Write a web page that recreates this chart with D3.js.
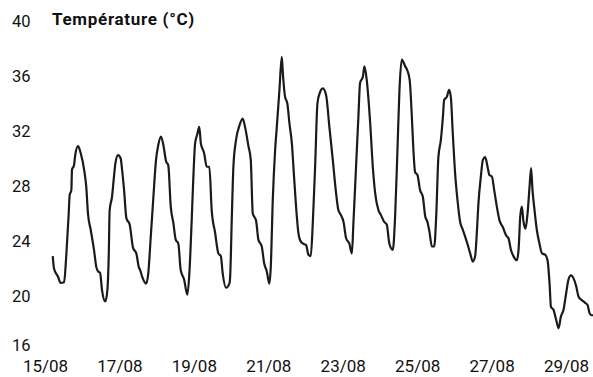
<html>
<head>
    <script src="https://d3js.org/d3.v7.min.js"></script>
</head>
<body>
<div id="graph"></div>

<script>
    // hours since 15/08 00:00
    var hours = [5.0, 5.8, 8.4, 10.1, 12.3, 13.7, 15.3, 15.9, 17.0, 17.4, 18.7, 19.5, 21.3, 23.0, 25.2, 26.6, 27.7, 29.5, 31.6, 33.1,
        34.2, 35.5, 36.8, 38.9, 40.2, 41.1, 41.7, 43.2, 44.5, 45.4, 47.1, 48.8, 49.7, 51.0, 52.5, 54.6, 56.8, 58.9, 60.5, 61.3,
        63.0, 65.2, 66.6, 68.2, 69.9, 71.6, 73.1, 74.8, 76.3, 78.1, 79.5, 81.1, 82.8, 84.3, 86.0, 87.5, 89.7, 91.8, 93.1, 94.6,
        95.7, 96.8, 98.3, 99.5, 100.5, 102.6, 104.3, 106.0, 107.5, 109.7, 111.8, 113.4, 114.6, 116.8, 118.9, 119.4, 120.5, 121.5, 123.2, 125.4,
        127.5, 129.0, 131.2, 132.7, 134.0, 136.1, 137.6, 139.8, 141.3, 143.0, 144.7, 145.6, 146.9, 148.4, 149.5, 151.2, 152.7, 153.4, 154.8, 156.3,
        157.6, 159.2, 160.6, 162.4, 163.4, 165.0, 166.6, 168.4, 169.9, 171.4, 172.7, 174.2, 175.7, 177.0, 179.2, 181.3, 183.4, 185.6, 187.7, 189.2,
        190.8, 192.5, 194.2, 196.3, 197.9, 198.9, 200.6, 202.1, 203.2, 205.0, 206.0, 207.5, 209.7, 211.4, 212.9, 215.0, 216.6, 218.7, 220.4, 222.1,
        224.3, 225.8, 227.3, 228.6, 230.1, 232.3, 233.7, 235.2, 236.6, 237.6, 238.7, 240.2, 241.9, 243.7, 245.2, 246.6, 247.9, 249.5, 251.0, 252.3,
        253.7, 255.3, 256.6, 257.4, 259.2, 260.6, 261.7, 263.0, 264.5, 266.0, 267.7, 269.5, 271.0, 272.4, 274.2, 275.9, 277.4, 278.5, 279.5, 281.1,
        282.4, 283.9, 285.4, 286.6, 288.2, 289.7, 291.4, 293.1, 295.3, 297.4, 298.9, 300.5, 302.1, 304.3, 305.4, 306.5, 307.5, 308.6, 309.9, 311.2,
        312.5, 313.5, 314.4, 315.7, 317.2, 318.9, 320.5, 322.6, 324.1, 325.4, 326.3, 327.9, 329.7, 331.2, 332.7, 334.4, 336.1, 337.6, 339.2, 340.8,
        342.6, 344.1, 346.2, 348.4, 349.9, 351.2, 352.7, 353.5];

    var temps = [22.9, 22.0, 21.4, 20.95, 21.0, 22.9, 26.0, 27.35, 27.7, 29.2, 29.5, 30.25, 30.9, 30.4, 29.2, 27.95, 26.0, 24.8, 23.35, 22.1,
        21.8, 21.7, 20.4, 19.6, 20.4, 22.9, 26.25, 27.2, 28.7, 29.65, 30.25, 30.0, 29.2, 27.7, 25.65, 25.2, 23.5, 23.1, 22.1, 21.9,
        21.3, 20.9, 21.65, 24.3, 27.2, 29.9, 31.0, 31.6, 31.0, 29.8, 29.5, 26.5, 25.3, 24.1, 23.8, 21.9, 21.2, 20.1, 21.65, 25.5,
        28.7, 31.1, 31.8, 32.3, 31.1, 30.4, 29.4, 29.4, 26.25, 24.6, 23.1, 22.9, 21.65, 20.6, 20.9, 21.4, 25.8, 29.4, 31.35, 32.4,
        32.9, 32.3, 30.9, 29.9, 26.0, 25.5, 24.1, 23.6, 22.4, 21.8, 20.9, 22.1, 27.0, 30.6, 32.3, 35.0, 37.4, 36.2, 34.5, 34.0,
        32.6, 31.1, 28.7, 25.8, 24.6, 23.95, 23.8, 23.7, 23.0, 22.9, 25.3, 29.4, 34.0, 34.7, 35.1, 34.6, 32.3, 29.9, 27.5, 26.25,
        25.9, 25.4, 24.2, 23.8, 23.1, 25.3, 29.4, 33.0, 35.5, 35.95, 36.7, 35.7, 32.6, 29.4, 27.5, 26.25, 25.9, 25.4, 25.2, 23.8,
        23.35, 25.8, 30.6, 35.0, 37.2, 36.7, 36.4, 35.7, 33.0, 30.6, 29.0, 28.8, 27.7, 27.2, 25.8, 25.4, 24.7, 23.6, 23.6, 25.8,
        30.1, 31.35, 33.0, 34.25, 34.5, 35.0, 34.5, 31.8, 28.9, 27.0, 25.4, 24.8, 24.3, 23.8, 23.1, 22.5, 22.9, 24.6, 26.7, 28.7,
        29.9, 30.1, 29.4, 28.8, 28.7, 27.7, 26.5, 25.5, 25.0, 24.4, 24.2, 23.35, 22.9, 22.6, 23.35, 25.8, 26.5, 25.4, 24.9, 26.0,
        27.95, 29.3, 27.7, 26.25, 24.8, 23.8, 23.1, 23.0, 22.6, 20.9, 19.2, 19.0, 18.25, 17.65, 18.5, 19.0, 20.2, 21.2, 21.5, 21.3,
        20.7, 19.95, 19.7, 19.5, 19.35, 18.75, 18.6, 18.6];

    var yTicks = [16, 20, 24, 28, 32, 36, 40];
    var xTickLabels = ["15/08", "17/08", "19/08", "21/08", "23/08", "25/08", "27/08", "29/08"];
    var year = 2023;

    var width = 593,
        height = 377;

    var start = Date.UTC(year, 7, 15);
    var data = hours.map(function(h, i) {
        return {date: new Date(start + h * 3600000), temp: temps[i]};
    });

    function parseLabel(s) {
        var p = s.split("/");
        return new Date(Date.UTC(year, +p[1] - 1, +p[0]));
    }

    var svg = d3.select("#graph")
        .append("svg")
        .attr("width", width)
        .attr("height", height);

    var x = d3.scaleUtc()
        .domain([parseLabel("15/08"), parseLabel("29/08")])
        .range([45, 566]);

    var y = d3.scaleLinear()
        .domain([16, 40])
        .range([351, 21]);

    // y axis: numbers only, no lines
    var yGroup = svg.append("g")
        .attr("transform", "translate(12,0)")
        .call(d3.axisRight(y).tickValues(yTicks).tickSize(0).tickPadding(0));
    yGroup.select(".domain").remove();
    yGroup.selectAll(".tick text")
        .attr("x", 0)
        .attr("dy", function(d) { return d === 16 ? "-0.05em" : "0.33em"; })
        .style("text-anchor", "start")
        .style("font-size", "16.5px");

    // x axis
    var xGroup = svg.append("g")
        .attr("transform", "translate(0,360)")
        .call(d3.axisBottom(x)
            .tickValues(xTickLabels.map(parseLabel))
            .tickFormat(d3.utcFormat("%d/%m"))
            .tickSize(0).tickPadding(0));
    xGroup.select(".domain").remove();
    xGroup.selectAll(".tick text")
        .style("font-size", "17px");

    svg.selectAll(".tick text")
        .style("font-family", "Roboto, sans-serif")
        .attr("fill", "#111");

    svg.append("text")
        .attr("x", 52)
        .attr("y", 25)
        .style("font-family", "Roboto, sans-serif")
        .style("font-weight", "bold")
        .style("font-size", "17px")
        .style("letter-spacing", "0.7px")
        .attr("fill", "#111")
        .text("Température (°C)");

    var line = d3.line()
        .x(function(d) { return x(d.date); })
        .y(function(d) { return y(d.temp); })
        .curve(d3.curveMonotoneX);

    svg.append("path")
        .datum(data)
        .attr("fill", "none")
        .attr("stroke", "#1a1a1a")
        .attr("stroke-width", 2.2)
        .attr("stroke-linejoin", "round")
        .attr("d", line);
</script>
</body>
</html>

<style>
    body {
        margin: 0;
        background: #fff;
    }
</style>
